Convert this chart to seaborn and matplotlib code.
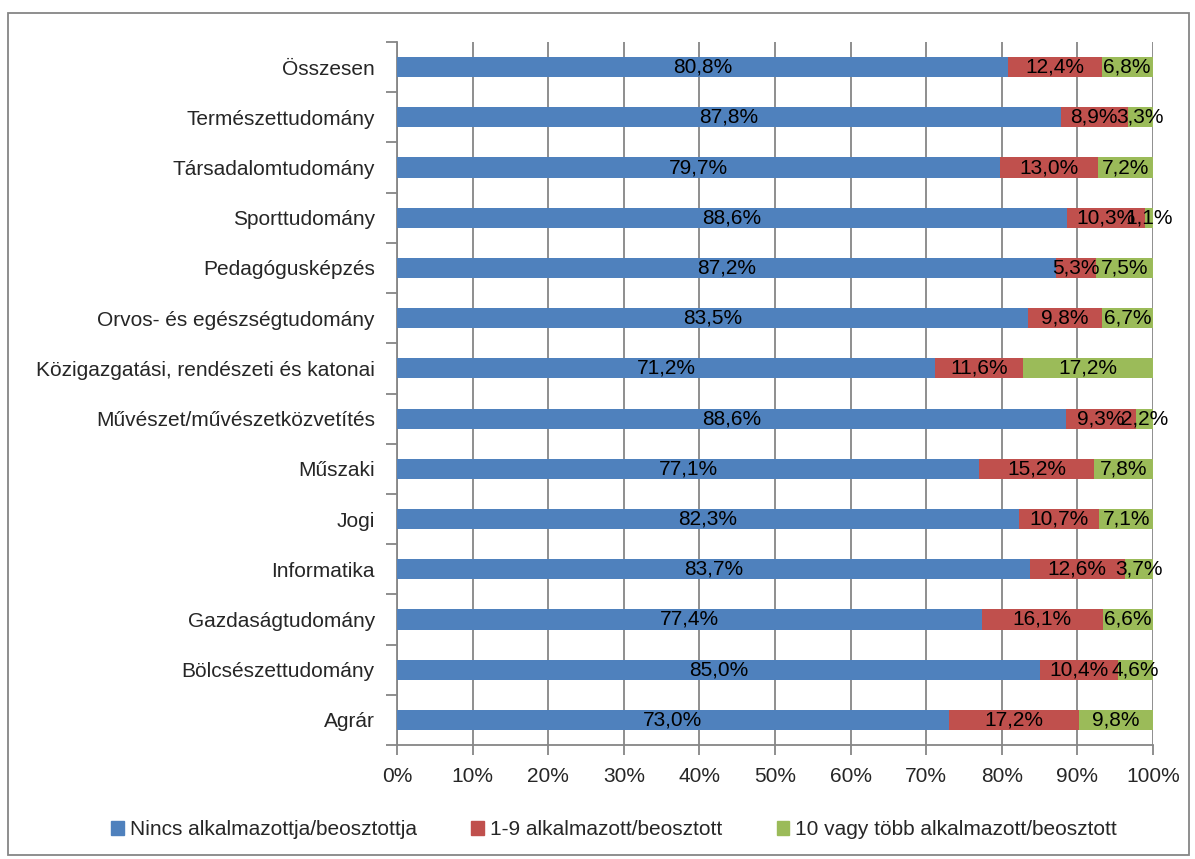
import numpy as np
import pandas as pd
import matplotlib
matplotlib.use("Agg")
import matplotlib.pyplot as plt
import matplotlib.patches as mpatches
import seaborn as sns

# data (top to bottom as in the chart)
categories = ["Összesen", "Természettudomány", "Társadalomtudomány", "Sporttudomány",
              "Pedagógusképzés", "Orvos- és egészségtudomány",
              "Közigazgatási, rendészeti és katonai", "Művészet/művészetközvetítés",
              "Műszaki", "Jogi", "Informatika", "Gazdaságtudomány",
              "Bölcsészettudomány", "Agrár"]
nincs = [80.8, 87.8, 79.7, 88.6, 87.2, 83.5, 71.2, 88.6, 77.1, 82.3, 83.7, 77.4, 85.0, 73.0]
egy_kilenc = [12.4, 8.9, 13.0, 10.3, 5.3, 9.8, 11.6, 9.3, 15.2, 10.7, 12.6, 16.1, 10.4, 17.2]
tiz_felett = [6.8, 3.3, 7.2, 1.1, 7.5, 6.7, 17.2, 2.2, 7.8, 7.1, 3.7, 6.6, 4.6, 9.8]
series_names = ["Nincs alkalmazottja/beosztottja", "1-9 alkalmazott/beosztott",
                "10 vagy több alkalmazott/beosztott"]
colors = ["#4F81BD", "#C0504D", "#9BBB59"]

df = pd.DataFrame({"kat": categories, "s1": nincs, "s2": egy_kilenc, "s3": tiz_felett})
tot = df["s1"] + df["s2"] + df["s3"]
for c in ["s1", "s2", "s3"]:
    df[c] = df[c] / tot * 100
df["c1"] = df["s1"]
df["c2"] = df["s1"] + df["s2"]
df["c3"] = df["c2"] + df["s3"]

sns.set_theme(style="white")
plt.rcParams["font.family"] = ["Liberation Sans", "DejaVu Sans"]

fig = plt.figure(figsize=(11.95, 8.59), dpi=100)
ax = fig.add_axes([0.3322, 0.1327, 0.6326, 0.8184])

# layered cumulative bars: longest first
for col, color in zip(["c3", "c2", "c1"], colors[::-1]):
    sns.barplot(data=df, y="kat", x=col, order=categories, orient="h",
                color=color, width=0.4, saturation=1, ax=ax, zorder=3,
                linewidth=0, edgecolor="none")

# segment labels
for i, row in df.iterrows():
    starts = [0, row["c1"], row["c2"]]
    widths = [row["s1"], row["s2"], row["s3"]]
    raw = [nincs[i], egy_kilenc[i], tiz_felett[i]]
    for s, w, v in zip(starts, widths, raw):
        ax.text(s + w / 2, i, f"{v:.1f}%".replace(".", ","), ha="center", va="center",
                fontsize=15, color="black", zorder=5)

ax.set_xlim(0, 100)
ax.set_ylim(13.5, -0.5)
ax.set_xticks(np.arange(0, 101, 10))
ax.set_xticklabels([f"{t}%" for t in range(0, 101, 10)], fontsize=15)
ax.set_yticks(range(len(categories)))
ax.set_yticklabels(categories, fontsize=15)
ax.set_yticks(np.arange(-0.5, 14, 1), minor=True)
ax.tick_params(axis="y", which="major", left=False, length=0, pad=16)
ax.tick_params(axis="y", which="minor", left=True, length=8, width=1.3,
               color="#868686", direction="out")
ax.tick_params(axis="x", bottom=True, length=7, width=1.3, color="#868686",
               direction="out", pad=9)
ax.set_xlabel("")
ax.set_ylabel("")
ax.xaxis.grid(True, color="#868686", linewidth=1.3, zorder=0)
ax.set_axisbelow(True)
for side in ["top", "right"]:
    ax.spines[side].set_visible(False)
for side in ["left", "bottom"]:
    ax.spines[side].set_color("#868686")
    ax.spines[side].set_linewidth(1.3)

handles = [mpatches.Patch(color=c, label=n) for c, n in zip(colors, series_names)]
fig.legend(handles=handles, loc="center", bbox_to_anchor=(0.514, 0.034), ncol=3,
           frameon=False, fontsize=15, handlelength=0.6, handleheight=0.6,
           handletextpad=0.3, columnspacing=2.6)

# outer chart border
fig.add_artist(mpatches.Rectangle((8 / 1195, 4 / 859), 1181 / 1195, 842 / 859,
                                  transform=fig.transFigure, fill=False,
                                  edgecolor="#868686", linewidth=1.3))

fig.savefig("out.png", dpi=100)
